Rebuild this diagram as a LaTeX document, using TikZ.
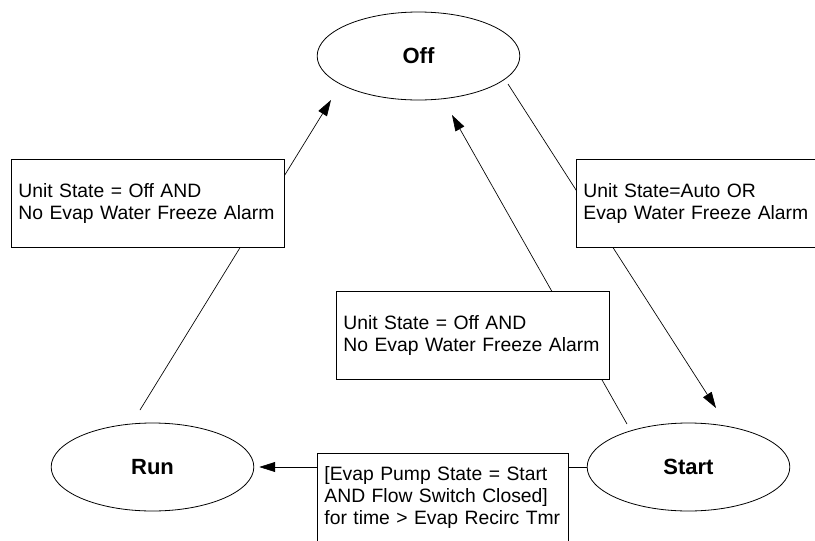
\documentclass[tikz,border=0pt]{standalone}
\usepackage{fontspec}
\setmainfont{Liberation Sans}
\usepackage{tikz}
\usetikzlibrary{arrows.meta,shapes.geometric,positioning}

\newcommand{\guardfont}{\fontsize{14.5}{16.4}\selectfont}
\newcommand{\statefont}{\fontsize{16.5}{18}\selectfont\bfseries}

\begin{document}
\begin{tikzpicture}
	[x=0.75pt,y=-0.75pt,
	state/.style={ellipse,draw,line width=0.6pt,minimum width=152pt,minimum height=66pt,inner sep=0pt,font=\statefont},
	guard/.style={rectangle,draw,fill=white,line width=0.6pt,inner xsep=5.25pt,inner ysep=0pt,minimum height=66pt,text width=#1,align=left,anchor=north west,font=\guardfont},
	trans/.style={line width=0.5pt,-{Triangle[length=12pt,width=7.5pt]}}]
	\useasboundingbox (0,0) rectangle (815,540);
	\node[state] (off) at (418.5,56) {Off};
	\node[state] (run) at (152.5,467) {Run};
	\node[state] (start) at (688.5,467) {Start};
	\coordinate (runout) at (140,410);
	\coordinate (offin1) at (331,100);
	\coordinate (offout) at (508,84);
	\coordinate (startin) at (716,408);
	\coordinate (startout) at (627,424);
	\coordinate (offin2) at (452,115);
	\draw[trans] (runout) -- (offin1);
	\draw[trans] (offout) -- (startin);
	\draw[trans] (startout) -- (offin2);
	\draw[trans,shorten >=3.75pt] (start.west) -- (run.east);
	\node[guard=194.25pt] (runoff) at (11,159) {\mbox{Unit State = Off AND}\\\mbox{No Evap Water Freeze Alarm}};
	\node[guard=194.25pt] (offstart) at (576,159) {\mbox{Unit State=Auto OR}\\\mbox{Evap Water Freeze Alarm}};
	\node[guard=194.25pt] (startoff) at (336,291) {\mbox{Unit State = Off AND}\\\mbox{No Evap Water Freeze Alarm}};
	\node[guard=177.75pt] (startrun) at (317,453) {\mbox{[Evap Pump State = Start}\\\mbox{AND Flow Switch Closed]}\\\mbox{for time > Evap Recirc Tmr}};
\end{tikzpicture}
\end{document}
